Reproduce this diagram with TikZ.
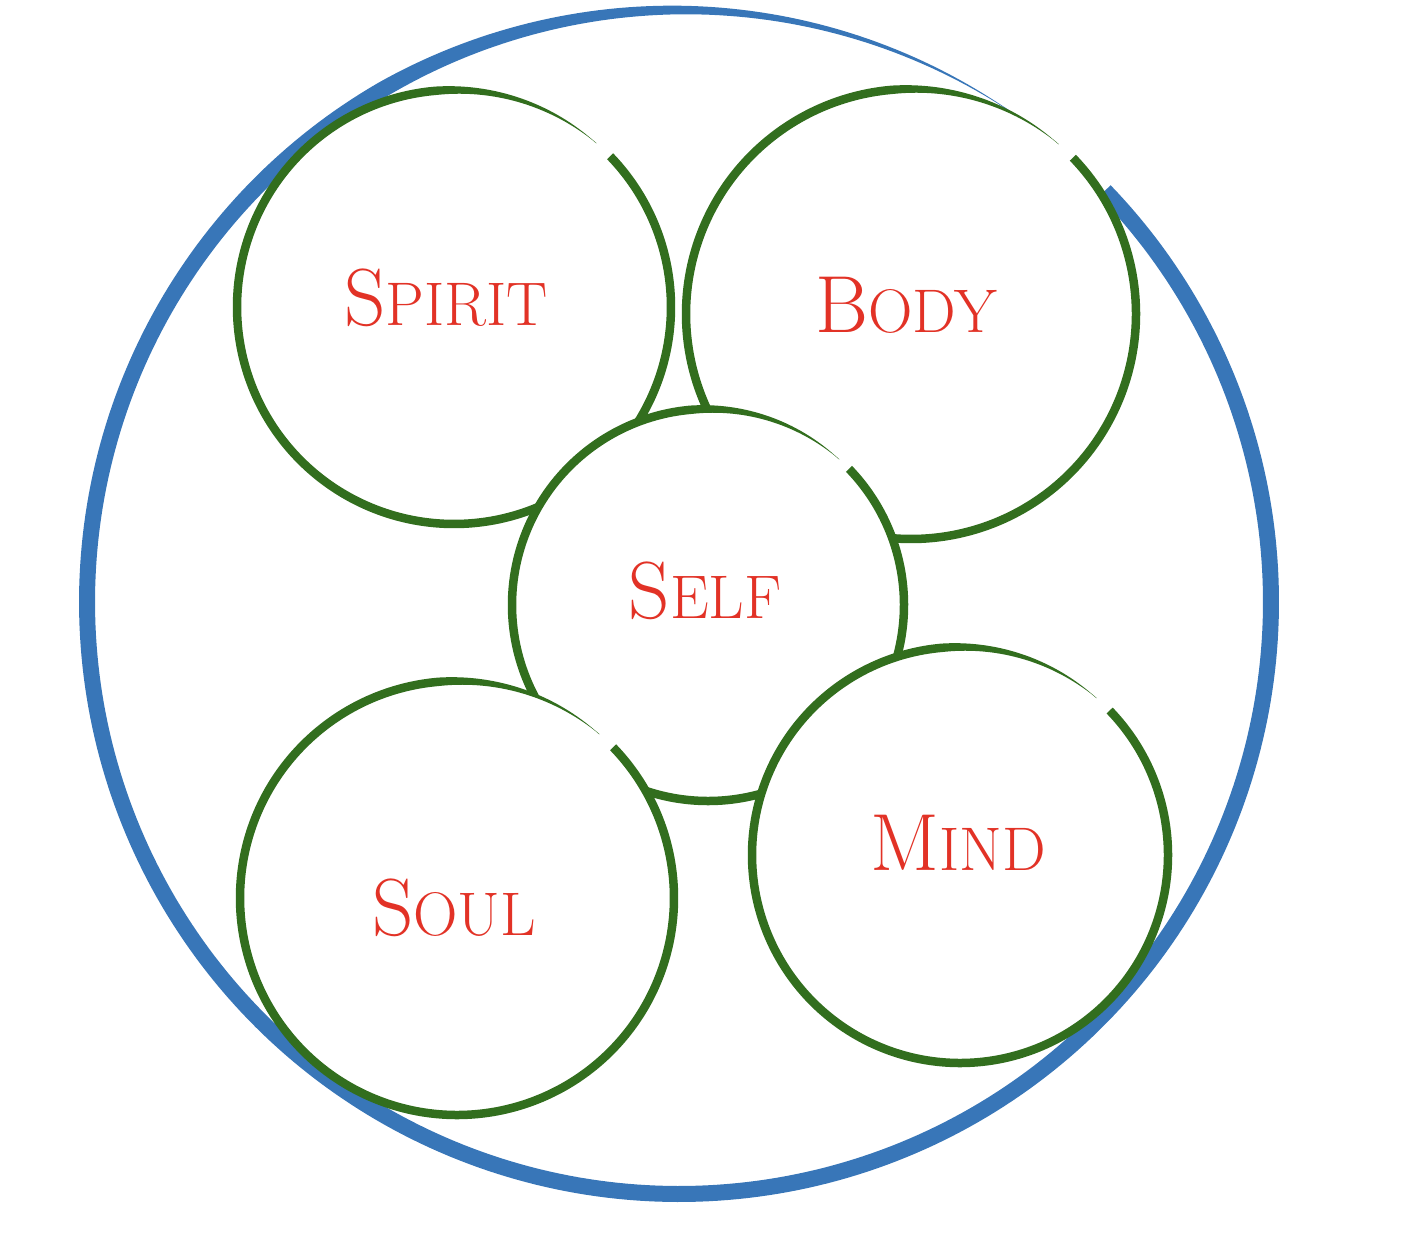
\documentclass[tikz,border=0pt]{standalone}
\usepackage{fontspec}
\setmainfont{Latin Modern Roman}
\definecolor{ringblue}{RGB}{56,118,184}
\definecolor{leafgreen}{RGB}{50,110,30}
\definecolor{labelred}{RGB}{226,50,38}
% #1 cx, #2 cy, #3 radius, #4 width, #5 colour, #6 start angle, #7 end angle, #8 taper start angle
\newcommand\brushstroke[8]{%
  \fill[#5] plot[domain=#7:#6,samples=360,variable=\t]
    ({#1+(#3+0.5*#4*min(1,max(0.04,(\t-(#7))/((#8)-(#7)))))*cos(\t)},
     {#2+(#3+0.5*#4*min(1,max(0.04,(\t-(#7))/((#8)-(#7)))))*sin(\t)})
  -- plot[domain=#7:#6,samples=360,variable=\t]
    ({#1+(#3-0.5*#4*min(1,max(0.04,((#6)-\t)/((#8)-(#7)))))*cos((#6)+(#7)-\t)},
     {#2+(#3-0.5*#4*min(1,max(0.04,((#6)-\t)/((#8)-(#7)))))*sin((#6)+(#7)-\t)})
  -- cycle;}
\newcommand\capsword[2]{{\fontsize{40.5}{41}\selectfont #1}{\fontsize{30.8}{31}\selectfont #2}}
\begin{document}
\begin{tikzpicture}[x=0.5pt,y=0.5pt]
\tikzset{
  disc/.style={circle,inner sep=0pt,fill=white,draw=none},
  lbl/.style={anchor=base,text=labelred,inner sep=0pt}
}
\useasboundingbox (0,0) rectangle (1422,-1248);
% outer ring
\node[circle,inner sep=0pt,minimum size=592pt] (whole) at (679,-602) {};
\brushstroke{679}{-602}{592}{16}{ringblue}{44}{-305}{-240}
% Spirit
\node[disc,minimum size=217pt] (spirit) at (454,-307) {};
\brushstroke{454}{-307}{217}{8.5}{leafgreen}{44}{-311}{-265}
% Body
\node[disc,minimum size=225pt] (body) at (911,-314) {};
\brushstroke{911}{-314}{225}{8.5}{leafgreen}{44}{-311}{-265}
% Self
\node[disc,minimum size=196pt] (self) at (708,-605) {};
\brushstroke{708}{-605}{196}{8.5}{leafgreen}{44}{-312}{-265}
% Soul
\node[disc,minimum size=217pt] (soul) at (457,-898) {};
\brushstroke{457}{-898}{217}{8.5}{leafgreen}{44}{-311}{-265}
% Mind
\node[disc,minimum size=208pt] (mind) at (960,-855) {};
\brushstroke{960}{-855}{208}{8.5}{leafgreen}{44}{-311}{-265}
% labels
\node[lbl] (tspirit) at (446,-325) {\capsword{S}{PIRIT}};
\node[lbl] (tbody) at (906,-332) {\capsword{B}{ODY}};
\node[lbl] (tself) at (705,-618) {\capsword{S}{ELF}};
\node[lbl] (tmind) at (958,-870) {\capsword{M}{IND}};
\node[lbl] (tsoul) at (454,-935) {\capsword{S}{OUL}};
\end{tikzpicture}
\end{document}
